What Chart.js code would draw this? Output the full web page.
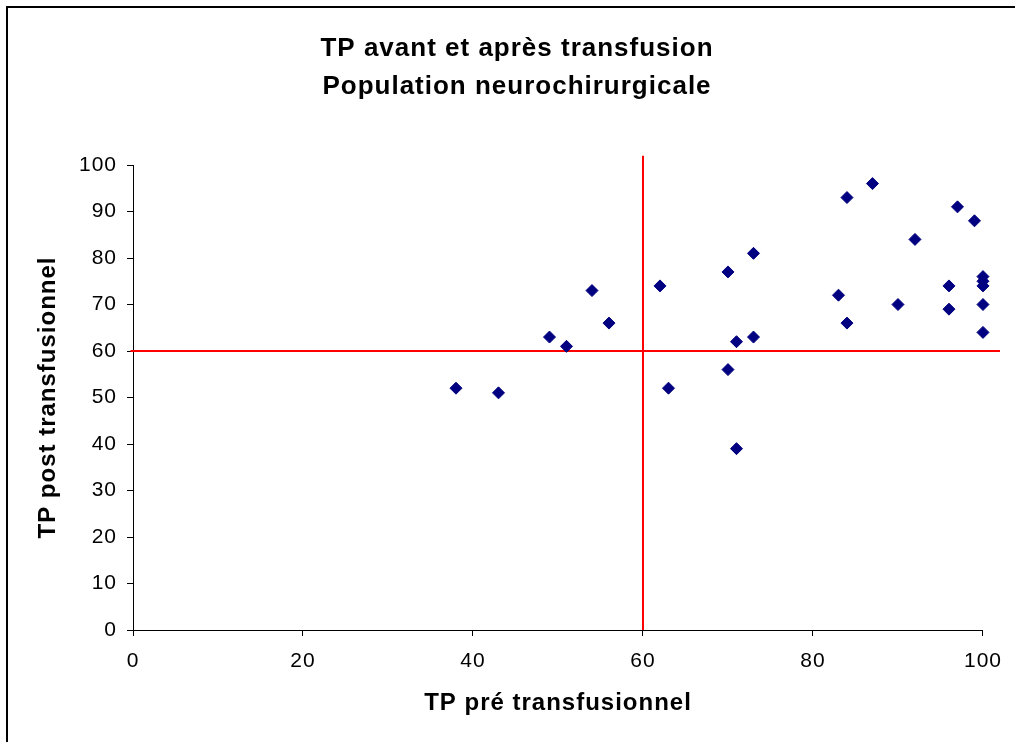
<!DOCTYPE html>
<html lang="fr">
<head>
  <meta charset="UTF-8" />
  <title>TP avant et après transfusion</title>
  <script src="https://cdn.jsdelivr.net/npm/chart.js"></script>
  <style>
    body {
      margin: 0;
      background: #fff;
      overflow: hidden;
    }
    #cadre {
      position: absolute;
      left: 6px;
      top: 6px;
      width: 1100px;
      height: 800px;
      border-left: 2px solid #000;
      border-top: 2px solid #000;
    }
    #box {
      position: absolute;
      left: 0;
      top: 0;
      width: 1015px;
      height: 742px;
    }
  </style>
</head>
<body>
  <div id="cadre"></div>
  <div id="box"><canvas id="graphe"></canvas></div>

  <script>
    // TP pré / post transfusionnel
    const tpPre  = [38, 43, 49, 51, 54, 56, 62, 63, 70, 70, 71, 71, 73, 73, 83, 84, 84, 87, 90, 92, 96, 96, 97, 99, 100, 100, 100, 100, 100];
    const tpPost = [52, 51, 63, 61, 73, 66, 74, 52, 77, 56, 62, 39, 63, 81, 72, 93, 66, 96, 70, 84, 74, 69, 91, 88, 76, 75, 74, 70, 64];

    // seuils à 60 %
    const seuilVertX = [60, 60];
    const seuilVertY = [0, 102];
    const seuilHorX = [-0.3, 102];
    const seuilHorY = [60, 60];

    const xTicks = [0, 20, 40, 60, 80, 100];
    const yTicks = [0, 10, 20, 30, 40, 50, 60, 70, 80, 90, 100];

    const police = "'Liberation Sans', Arial, sans-serif";

    const points = tpPre.map((x, i) => ({ x: x, y: tpPost[i] }));
    const ligneV = seuilVertX.map((x, i) => ({ x: x, y: seuilVertY[i] }));
    const ligneH = seuilHorX.map((x, i) => ({ x: x, y: seuilHorY[i] }));

    // le texte d'Excel est un peu plus large : léger espacement des lettres
    const espacement = {
      id: 'espacement',
      beforeUpdate(chart) { chart.ctx.letterSpacing = '1px'; },
      beforeDraw(chart) { chart.ctx.letterSpacing = '1px'; }
    };

    const ctx = document.getElementById("graphe").getContext("2d");
    new Chart(ctx, {
      type: 'scatter',
      plugins: [espacement],
      data: {
        datasets: [
          {
            label: 'seuil pré',
            data: ligneV,
            showLine: true,
            borderColor: '#ff0000',
            borderWidth: 2,
            pointRadius: 0,
            clip: false,
            order: 2
          },
          {
            label: 'seuil post',
            data: ligneH,
            showLine: true,
            borderColor: '#ff0000',
            borderWidth: 2,
            pointRadius: 0,
            clip: false,
            order: 2
          },
          {
            label: 'TP',
            data: points,
            pointStyle: 'rectRot',
            pointRadius: 6,
            backgroundColor: '#000080',
            borderColor: '#000080',
            borderWidth: 1,
            clip: false,
            order: 1
          }
        ]
      },
      options: {
        responsive: true,
        maintainAspectRatio: false,
        animation: false,
        layout: {
          padding: { left: 19, right: 0, top: 0, bottom: 0 }
        },
        scales: {
          x: {
            type: 'linear',
            min: 0,
            max: 100,
            afterBuildTicks: s => { s.ticks = xTicks.map(v => ({ value: v })); },
            afterFit: s => { s.height = 112; },
            grid: {
              drawOnChartArea: false,
              drawTicks: true,
              tickLength: 6,
              color: '#000'
            },
            border: { color: '#000', width: 1 },
            ticks: {
              color: '#000',
              font: { family: police, size: 21 },
              padding: 13,
              maxRotation: 0
            },
            title: {
              display: true,
              text: 'TP pré transfusionnel',
              color: '#000',
              font: { family: police, size: 24, weight: 'bold' },
              padding: { top: 0, bottom: 24 }
            }
          },
          y: {
            type: 'linear',
            min: 0,
            max: 100,
            afterBuildTicks: s => { s.ticks = yTicks.map(v => ({ value: v })); },
            afterFit: s => { s.width = 114; },
            grid: {
              drawOnChartArea: false,
              drawTicks: true,
              tickLength: 6,
              color: '#000'
            },
            border: { color: '#000', width: 1 },
            ticks: {
              color: '#000',
              font: { family: police, size: 21 },
              padding: 10
            },
            title: {
              display: true,
              text: 'TP post transfusionnel',
              color: '#000',
              font: { family: police, size: 24, weight: 'bold' },
              padding: { top: 15, bottom: 0 }
            }
          },
          // axe vide à droite, réserve la marge sans décentrer le titre
          marge: {
            type: 'linear',
            position: 'right',
            min: 0,
            max: 100,
            afterFit: s => { s.width = 32; },
            grid: { display: false },
            border: { display: false },
            ticks: { display: false }
          }
        },
        plugins: {
          legend: { display: false },
          tooltip: { enabled: false },
          title: {
            display: true,
            text: ['TP avant et après transfusion', 'Population neurochirurgicale'],
            color: '#000',
            font: { family: police, size: 26, weight: 'bold', lineHeight: '38px' },
            padding: { top: 30, bottom: 59 }
          }
        }
      }
    });
  </script>
</body>
</html>
